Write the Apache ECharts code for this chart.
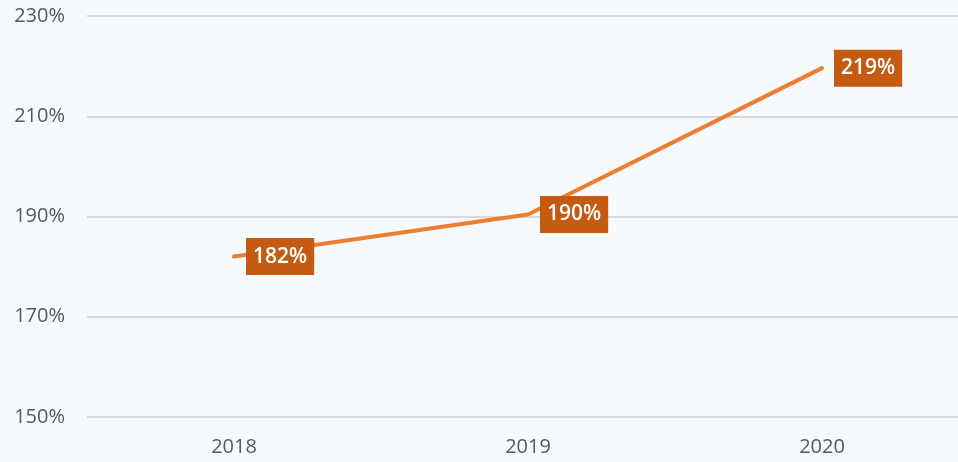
<!DOCTYPE html>
<html>
<head>
<meta charset="utf-8">
<script src="https://cdn.jsdelivr.net/npm/echarts@6/dist/echarts.min.js"></script>
<style>
html,body{margin:0;padding:0;background:#f6fafd;overflow:hidden;}
#c{width:958px;height:462px;}
</style>
</head>
<body>
<div id="c"></div>
<script>
const categories = ['2018', '2019', '2020'];
const values = [182.0, 190.4, 219.6];
const labels = ['182%', '190%', '219%'];
const yTicks = { min: 150, max: 230, interval: 20 };

const chart = echarts.init(document.getElementById('c'));
chart.setOption({
  backgroundColor: '#f6fafd',
  animation: false,
  grid: { left: 87, width: 882, top: 16, bottom: 45, containLabel: false, outerBoundsMode: 'none' },
  xAxis: {
    type: 'category',
    data: categories,
    boundaryGap: true,
    axisLine: { show: false },
    axisTick: { show: false },
    axisLabel: { color: '#595959', fontSize: 20, fontFamily: 'Open Sans', margin: 20 }
  },
  yAxis: {
    type: 'value',
    min: yTicks.min, max: yTicks.max, interval: yTicks.interval,
    axisLine: { show: false },
    axisTick: { show: false },
    splitLine: { lineStyle: { color: '#d9d9d9', width: 2 } },
    axisLabel: { color: '#595959', fontSize: 20, fontFamily: 'Open Sans', margin: 22, formatter: '{value}%' }
  },
  series: [{
    type: 'line',
    data: values,
    showSymbol: true,
    symbol: 'circle',
    symbolSize: 2,
    itemStyle: { color: 'rgba(0,0,0,0)', borderWidth: 0 },
    lineStyle: { color: '#ed7d31', width: 4, cap: 'round', join: 'round' },
    label: {
      show: true,
      position: 'right',
      distance: 11,
      formatter: p => labels[p.dataIndex],
      color: '#ffffff',
      fontSize: 21,
      fontWeight: 600,
      fontFamily: 'Open Sans',
      backgroundColor: '#c55a11',
      padding: [9, 7, 7, 7]
    }
  }]
});
</script>
</body>
</html>
